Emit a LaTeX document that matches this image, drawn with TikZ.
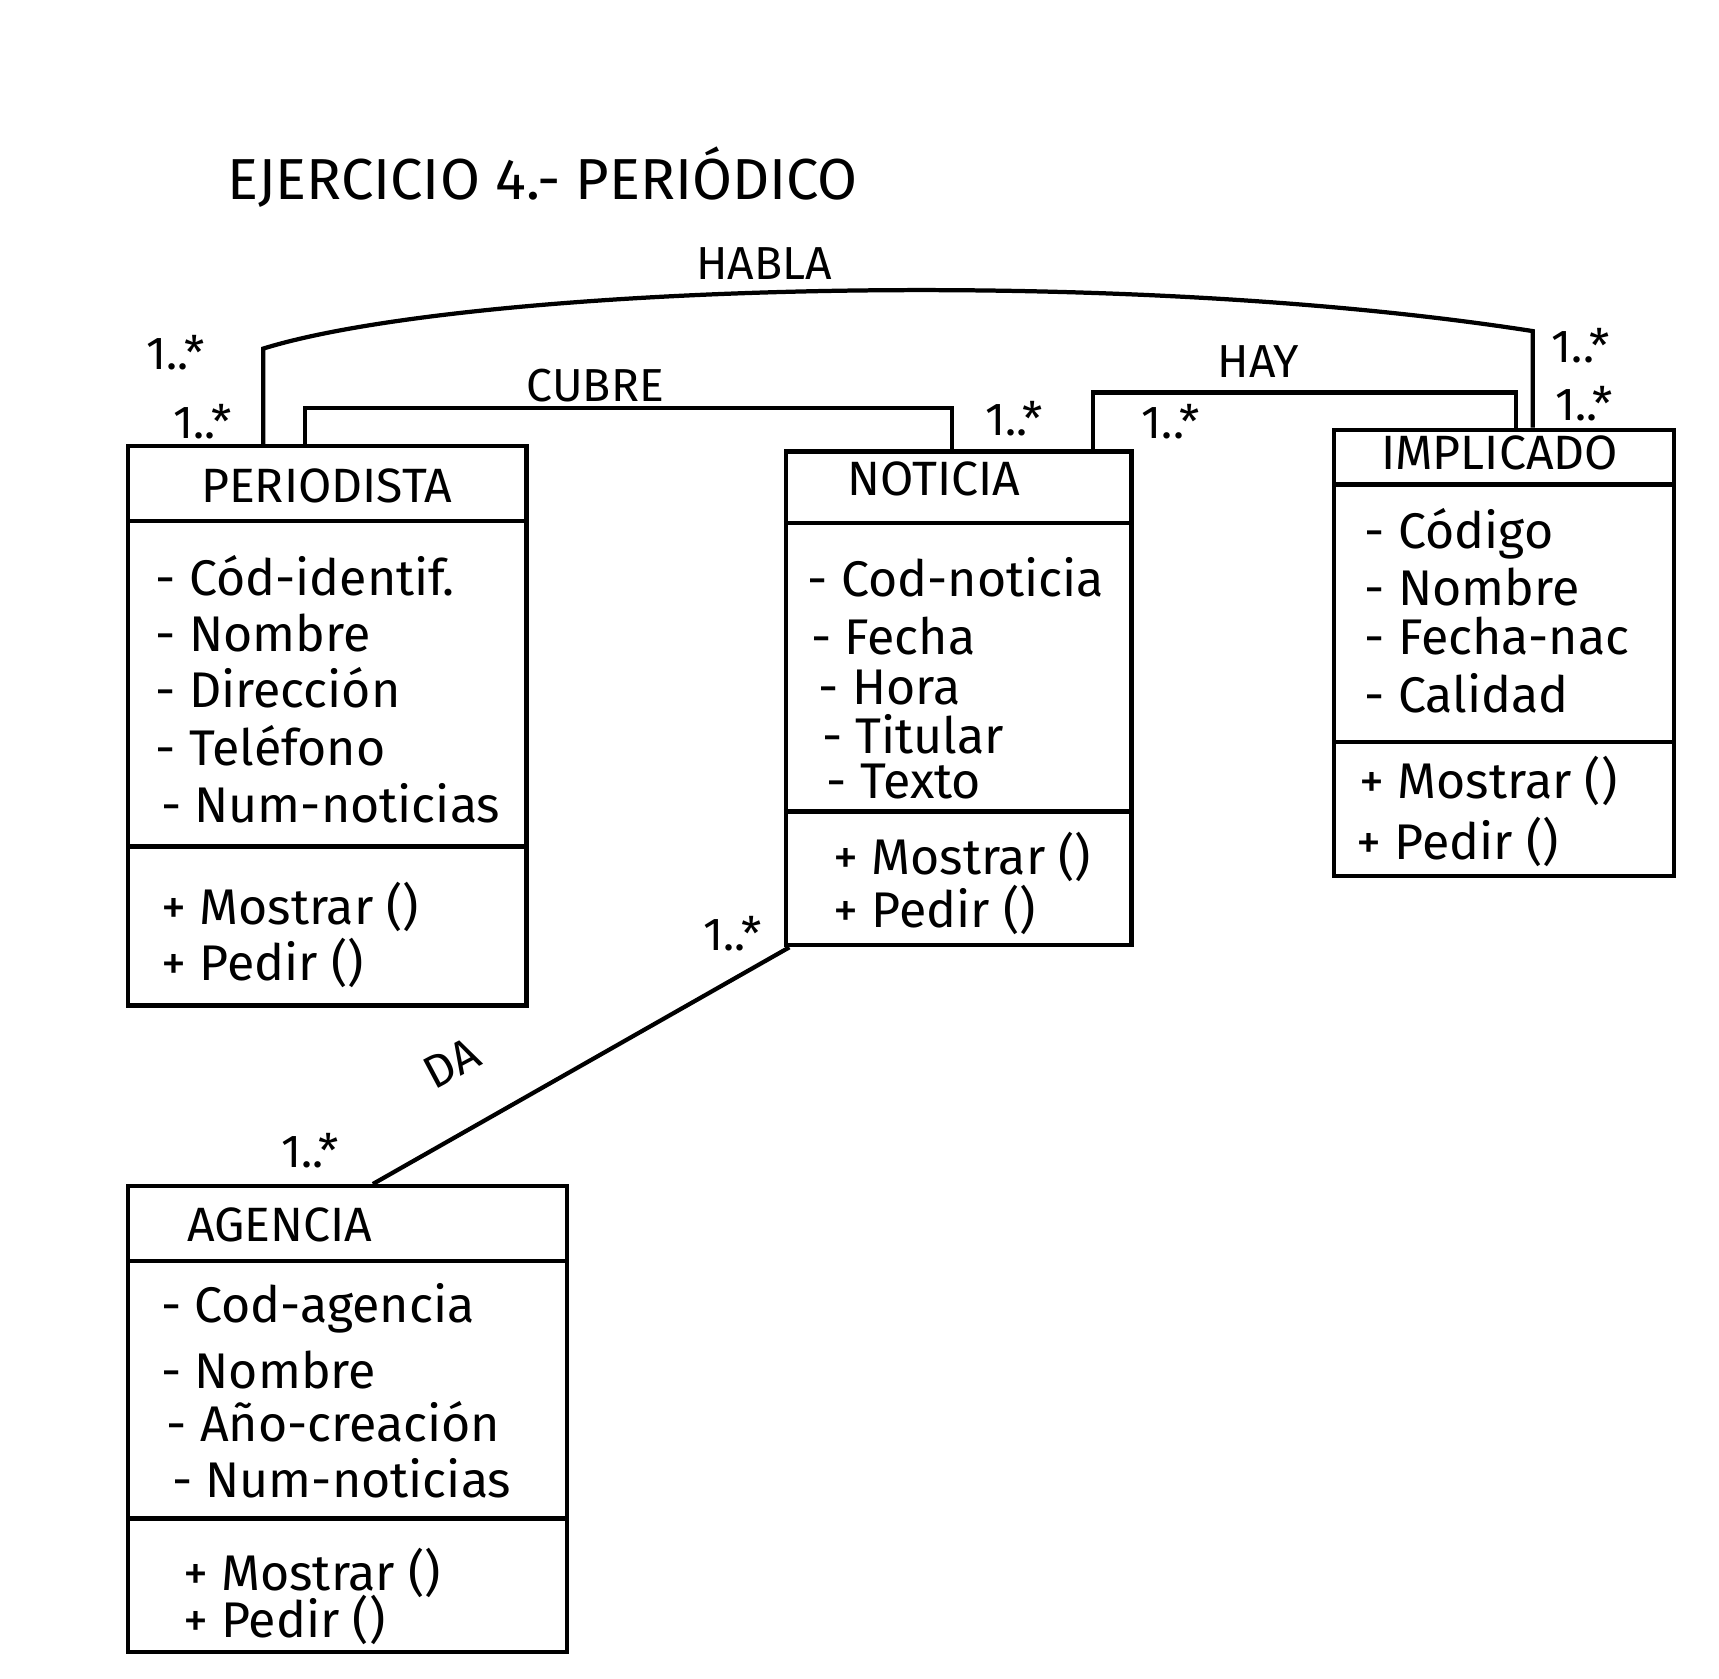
\documentclass[tikz,border=0pt]{standalone}
\usepackage{fontspec}
\setmainfont{Fira Sans}
\begin{document}
\begin{tikzpicture}[x=0.01cm,y=-0.01cm, line width=1.1pt,
  cls/.style={draw, rectangle, anchor=north west, inner sep=0pt},
  attr/.style={anchor=west, font=\fontsize{13}{15}\selectfont, inner sep=0pt},
  ctitle/.style={font=\fontsize{12.5}{14}\selectfont, inner sep=0pt},
  mult/.style={font=\fontsize{12}{14}\selectfont, inner sep=0pt},
  alabel/.style={font=\fontsize{12}{14}\selectfont, inner sep=0pt}]
\useasboundingbox (0,0) rectangle (1568,1531);

% title
\node[font=\fontsize{15}{17}\selectfont, inner sep=0pt] (title) at (495,162) {EJERCICIO 4.- PERIÓDICO};

% PERIODISTA
\node[cls, minimum width=3.63cm, minimum height=5.10cm] (per) at (115,405) {};
\draw ([yshift=-0.70cm]per.north west) -- ([yshift=-0.70cm]per.north east);
\draw ([yshift=-3.67cm]per.north west) -- ([yshift=-3.67cm]per.north east);
\node[ctitle] (pert) at (298,443) {PERIODISTA};
\node[attr] (pera1) at (140,525) {- Cód-identif.};
\node[attr] (pera2) at (140,577) {- Nombre};
\node[attr] (pera3) at (140,627) {- Dirección};
\node[attr] (pera4) at (140,680) {- Teléfono};
\node[attr] (pera5) at (145,733) {- Num-noticias};
\node[attr] (perm1) at (145,827) {+ Mostrar ()};
\node[attr] (perm2) at (145,878) {+ Pedir ()};

% NOTICIA
\node[cls, minimum width=3.15cm, minimum height=4.50cm] (not) at (715,410) {};
\draw ([yshift=-0.67cm]not.north west) -- ([yshift=-0.67cm]not.north east);
\draw ([yshift=-3.30cm]not.north west) -- ([yshift=-3.30cm]not.north east);
\node[ctitle] (nott) at (852,437) {NOTICIA};
\node[attr] (nota1) at (735,527) {- Cod-noticia};
\node[attr] (nota2) at (738,580) {- Fecha};
\node[attr] (nota3) at (745,627) {- Hora};
\node[attr] (nota4) at (748,670) {- Titular};
\node[attr] (nota5) at (752,713) {- Texto};
\node[attr] (notm1) at (758,782) {+ Mostrar ()};
\node[attr] (notm2) at (758,830) {+ Pedir ()};

% IMPLICADO
\node[cls, minimum width=3.10cm, minimum height=4.07cm] (imp) at (1215,390) {};
\draw ([yshift=-0.52cm]imp.north west) -- ([yshift=-0.52cm]imp.north east);
\draw ([yshift=-2.87cm]imp.north west) -- ([yshift=-2.87cm]imp.north east);
\node[ctitle] (impt) at (1368,413) {IMPLICADO};
\node[attr] (impa1) at (1243,487) {- Código};
\node[attr] (impa2) at (1243,535) {- Nombre};
\node[attr] (impa3) at (1243,580) {- Fecha-nac};
\node[attr] (impa4) at (1243,632) {- Calidad};
\node[attr] (impm1) at (1238,712) {+ Mostrar ()};
\node[attr] (impm2) at (1235,768) {+ Pedir ()};

% AGENCIA
\node[cls, minimum width=4.00cm, minimum height=4.25cm] (age) at (115,1080) {};
\draw ([yshift=-0.70cm]age.north west) -- ([yshift=-0.70cm]age.north east);
\draw ([yshift=-3.05cm]age.north west) -- ([yshift=-3.05cm]age.north east);
\node[ctitle] (aget) at (255,1117) {AGENCIA};
\node[attr] (agea1) at (145,1193) {- Cod-agencia};
\node[attr] (agea2) at (145,1250) {- Nombre};
\node[attr] (agea3) at (150,1297) {- Año-creación};
\node[attr] (agea4) at (155,1348) {- Num-noticias};
\node[attr] (agem1) at (165,1435) {+ Mostrar ()};
\node[attr] (agem2) at (165,1478) {+ Pedir ()};

% HABLA
\draw ([xshift=1.25cm]per.north west) -- ++(0,-87)
  .. controls (420,262) and (1000,240) .. (1398,302)
  -- ([xshift=1.83cm]imp.north west);
\node[alabel] (habla) at (697,240) {HABLA};
\node[mult] (m1) at (160,322) {1..*};
\node[mult] (m2) at (1442,315) {1..*};

% CUBRE
\draw ([xshift=1.63cm]per.north west) |- ([xshift=1.53cm,yshift=0.38cm]not.north west)
  -- ([xshift=1.53cm]not.north west);
\node[alabel] (cubre) at (543,352) {CUBRE};
\node[mult] (m3) at (185,385) {1..*};
\node[mult] (m4) at (925,382) {1..*};

% HAY
\draw ([xshift=2.82cm]not.north west) |- ([xshift=1.68cm,yshift=0.32cm]imp.north west)
  -- ([xshift=1.68cm]imp.north west);
\node[alabel] (hay) at (1148,330) {HAY};
\node[mult] (m5) at (1068,385) {1..*};
\node[mult] (m6) at (1445,368) {1..*};

% DA
\draw ([xshift=0.05cm]not.south west) -- ([xshift=2.25cm]age.north west);
\node[alabel, rotate=28] (da) at (412,970) {DA};
\node[mult] (m7) at (668,852) {1..*};
\node[mult] (m8) at (283,1050) {1..*};
\end{tikzpicture}
\end{document}
